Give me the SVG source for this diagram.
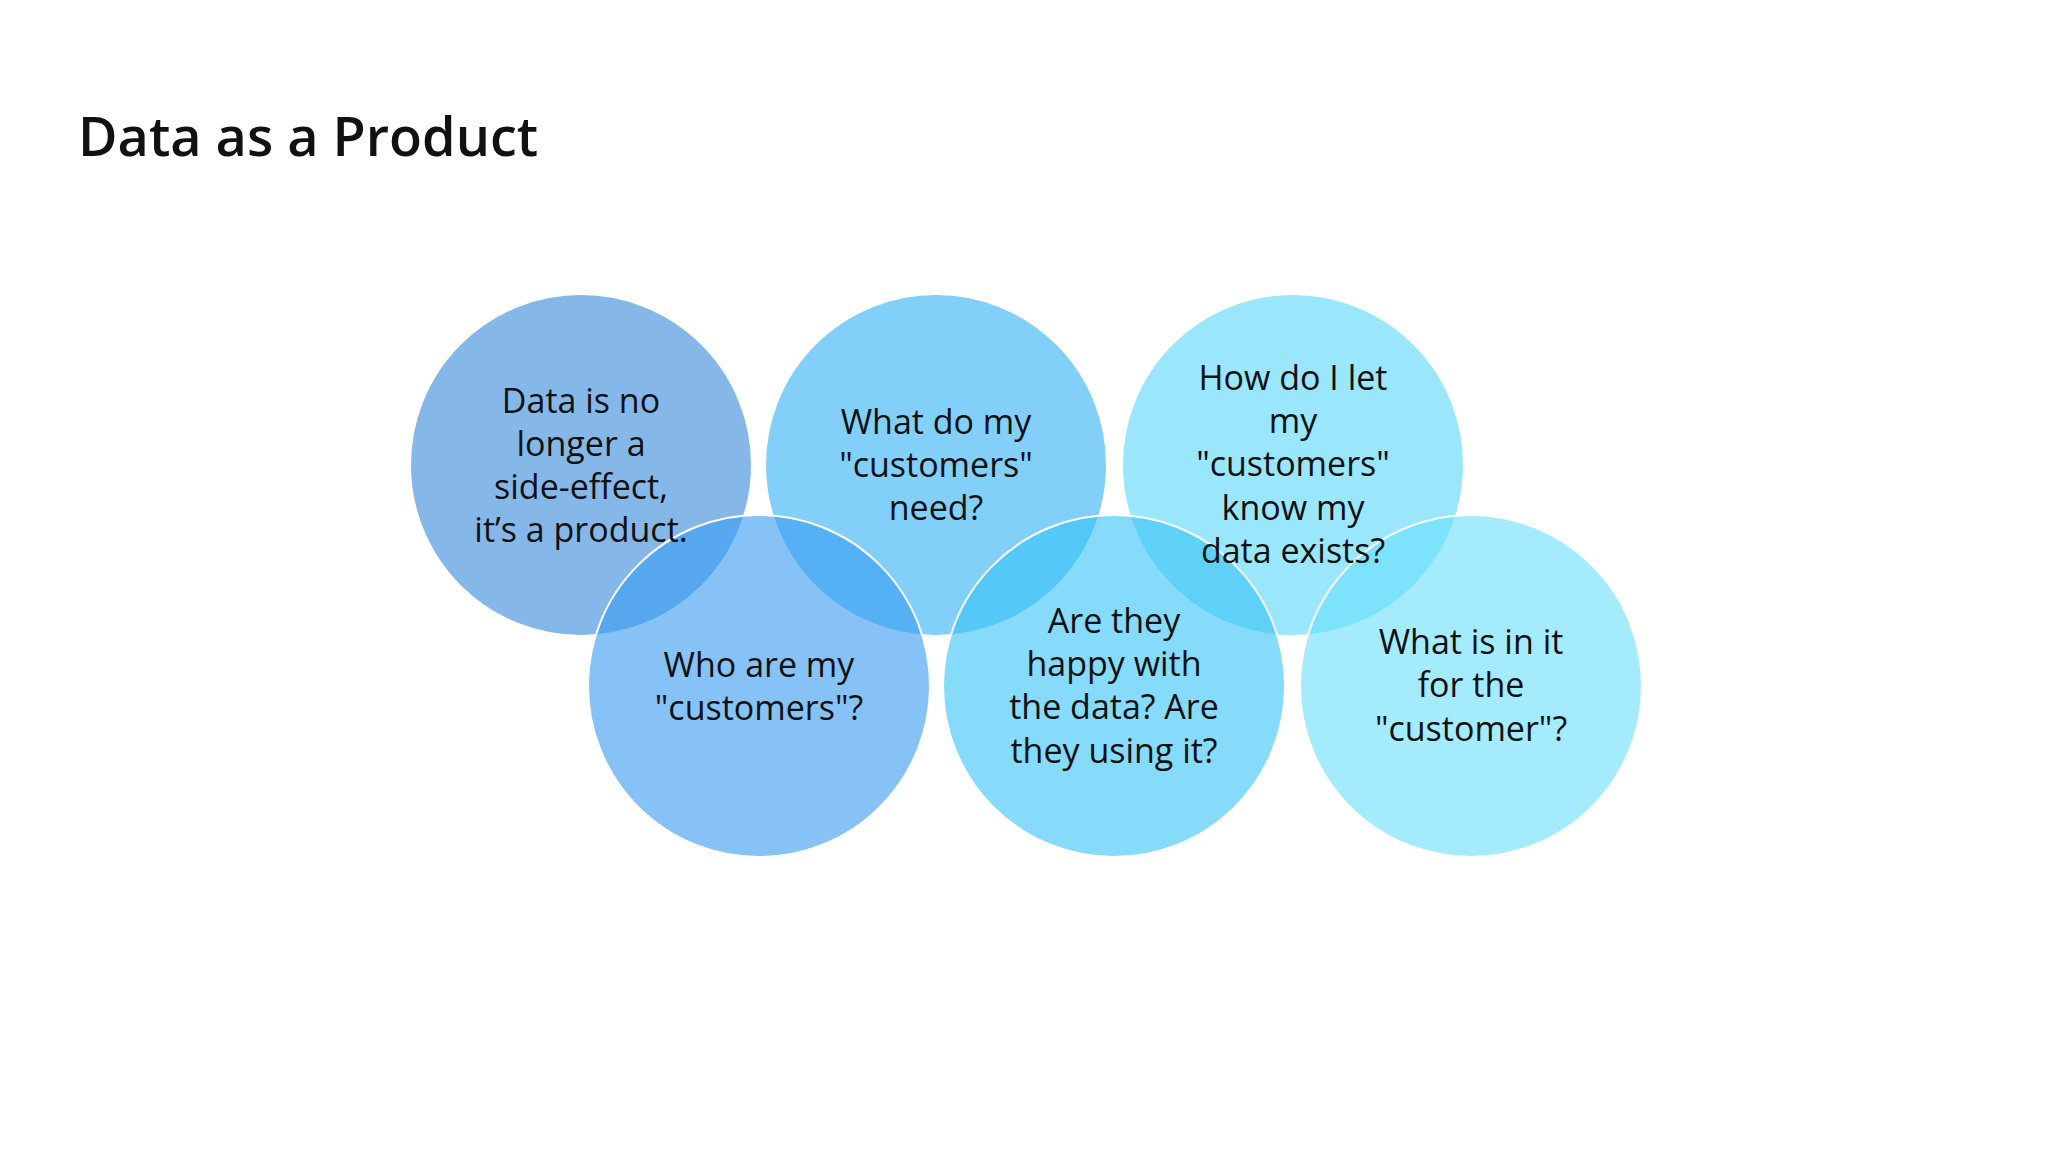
<svg xmlns="http://www.w3.org/2000/svg" width="2048" height="1152" viewBox="0 0 2048 1152">
<style>
.c{stroke:#ffffff;stroke-width:2;fill-opacity:0.62}
.t{font-family:"Open Sans","Noto Sans",sans-serif;font-size:34px;fill:#111;text-anchor:middle}
.h{font-family:"Open Sans","Noto Sans",sans-serif;font-size:54px;font-weight:600;fill:#111}
</style>
<rect width="2048" height="1152" fill="#ffffff"/>
<text class="h" x="78" y="156">Data as a Product</text>
<g id="circles">
<g id="n1"><circle class="c" cx="581" cy="465" r="171" fill="#3a8ddc"/></g>
<g id="n2"><circle class="c" cx="936" cy="465" r="171" fill="#36b2f6"/></g>
<g id="n3"><circle class="c" cx="1293" cy="465" r="171" fill="#5ad6fb"/></g>
<g id="n4"><circle class="c" cx="759" cy="686" r="171" fill="#3b9cf0"/></g>
<g id="n5"><circle class="c" cx="1114" cy="686" r="171" fill="#3cc4f7"/></g>
<g id="n6"><circle class="c" cx="1471" cy="686" r="171" fill="#6ce0fc"/></g>
</g>
<g id="labels">
<text id="l1" class="t"><tspan x="581" y="413">Data is no</tspan><tspan x="581" y="456">longer a</tspan><tspan x="581" y="499">side-effect,</tspan><tspan x="581" y="542">it’s a product.</tspan></text>
<text id="l2" class="t"><tspan x="936" y="434">What do my</tspan><tspan x="936" y="477">"customers"</tspan><tspan x="936" y="520">need?</tspan></text>
<text id="l3" class="t"><tspan x="1293" y="390">How do I let</tspan><tspan x="1293" y="433">my</tspan><tspan x="1293" y="476">"customers"</tspan><tspan x="1293" y="520">know my</tspan><tspan x="1293" y="563">data exists?</tspan></text>
<text id="l4" class="t"><tspan x="759" y="677">Who are my</tspan><tspan x="759" y="720">"customers"?</tspan></text>
<text id="l5" class="t"><tspan x="1114" y="633">Are they</tspan><tspan x="1114" y="676">happy with</tspan><tspan x="1114" y="719">the data? Are</tspan><tspan x="1114" y="763">they using it?</tspan></text>
<text id="l6" class="t"><tspan x="1471" y="654">What is in it</tspan><tspan x="1471" y="697">for the</tspan><tspan x="1471" y="741">"customer"?</tspan></text>
</g>
</svg>
